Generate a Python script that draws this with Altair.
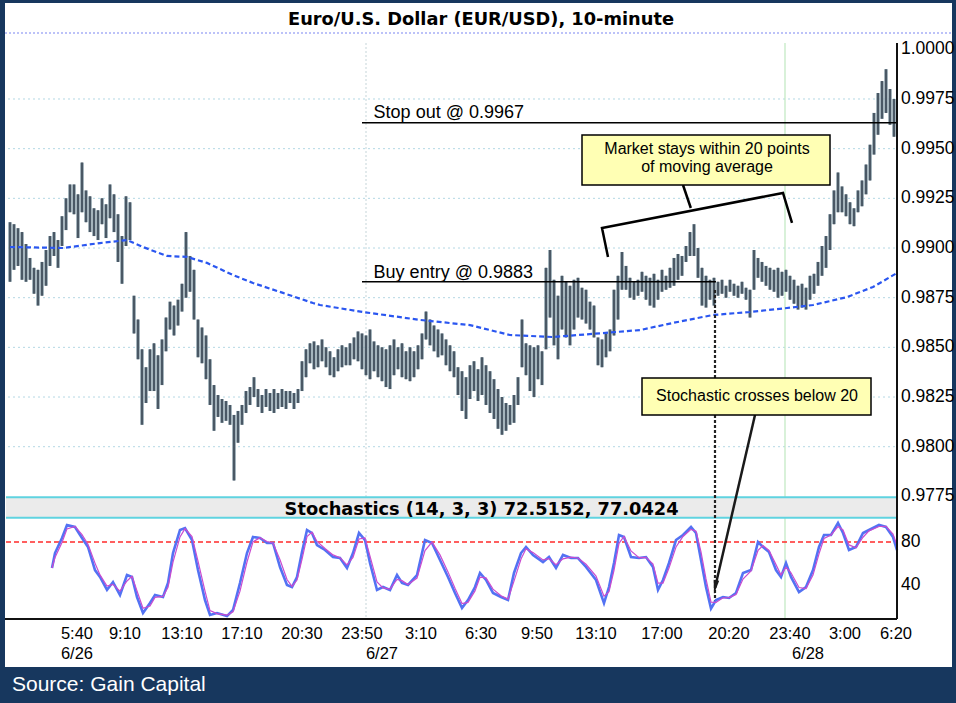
import altair as alt
import pandas as pd

TITLE = "Euro/U.S. Dollar (EUR/USD), 10-minute"
STOCH_TITLE = "Stochastics (14, 3, 3) 72.5152, 77.0424"
SOURCE = "Source: Gain Capital"
NOTE_MA = ["Market stays within 20 points", "of moving average"]
NOTE_STOCH = "Stochastic crosses below 20"
STOP_TEXT = "Stop out @ 0.9967"
BUY_TEXT = "Buy entry @ 0.9883"

# 10-minute bars (high / low)
bar_high = [
    0.9913, 0.9912, 0.9910, 0.9908, 0.9902, 0.9895, 0.9890, 0.9889, 0.9893, 0.9899,
    0.9906, 0.9908, 0.9904, 0.9916, 0.9925, 0.9932, 0.9932, 0.9927, 0.9943, 0.9929,
    0.9926, 0.9920, 0.9919, 0.9925, 0.9922, 0.9932, 0.9927, 0.9917, 0.9906, 0.9926,
    0.9923, 0.9876, 0.9864, 0.9849, 0.9840, 0.9849, 0.9852, 0.9846, 0.9854, 0.9865,
    0.9873, 0.9871, 0.9874, 0.9882, 0.9908, 0.9896, 0.9889, 0.9864, 0.9860, 0.9856,
    0.9844, 0.9831, 0.9826, 0.9824, 0.9823, 0.9821, 0.9816, 0.9818, 0.9821, 0.9828,
    0.9830, 0.9835, 0.9829, 0.9826, 0.9829, 0.9827, 0.9829, 0.9827, 0.9829, 0.9828,
    0.9828, 0.9827, 0.9829, 0.9843, 0.9849, 0.9852, 0.9853, 0.9851, 0.9854, 0.9850,
    0.9848, 0.9845, 0.9849, 0.9851, 0.9850, 0.9852, 0.9855, 0.9858, 0.9857, 0.9856,
    0.9859, 0.9853, 0.9851, 0.9850, 0.9849, 0.9851, 0.9854, 0.9850, 0.9852, 0.9848,
    0.9850, 0.9848, 0.9851, 0.9857, 0.9868, 0.9864, 0.9861, 0.9859, 0.9857, 0.9854,
    0.9851, 0.9848, 0.9840, 0.9838, 0.9835, 0.9841, 0.9843, 0.9839, 0.9845, 0.9841,
    0.9838, 0.9834, 0.9829, 0.9825, 0.9822, 0.9821, 0.9826, 0.9835, 0.9864, 0.9852,
    0.9851, 0.9850, 0.9851, 0.9848, 0.9890, 0.9899, 0.9884, 0.9876, 0.9886, 0.9883,
    0.9881, 0.9884, 0.9885, 0.9880, 0.9879, 0.9873, 0.9871, 0.9855, 0.9854, 0.9857,
    0.9859, 0.9879, 0.9886, 0.9898, 0.9891, 0.9885, 0.9883, 0.9884, 0.9888, 0.9886,
    0.9885, 0.9887, 0.9884, 0.9889, 0.9886, 0.9890, 0.9895, 0.9897, 0.9896, 0.9901,
    0.9908, 0.9912, 0.9900, 0.9890, 0.9886, 0.9884, 0.9885, 0.9883, 0.9884, 0.9881,
    0.9884, 0.9882, 0.9881, 0.9883, 0.9880, 0.9879, 0.9899, 0.9895, 0.9893, 0.9891,
    0.9890, 0.9889, 0.9890, 0.9888, 0.9889, 0.9886, 0.9884, 0.9881, 0.9882, 0.9880,
    0.9886, 0.9887, 0.9893, 0.9901, 0.9906, 0.9917, 0.9929, 0.9938, 0.9931, 0.9927,
    0.9923, 0.9920, 0.9929, 0.9934, 0.9942, 0.9952, 0.9968, 0.9978, 0.9984, 0.9990,
    0.9980, 0.9975,
]
bar_low = [
    0.9883, 0.9889, 0.9891, 0.9884, 0.9883, 0.9884, 0.9877, 0.9871, 0.9876, 0.9881,
    0.9891, 0.9896, 0.9890, 0.9901, 0.9909, 0.9918, 0.9917, 0.9905, 0.9918, 0.9913,
    0.9908, 0.9906, 0.9904, 0.9912, 0.9905, 0.9915, 0.9908, 0.9893, 0.9882, 0.9901,
    0.9904, 0.9857, 0.9844, 0.9811, 0.9822, 0.9828, 0.9828, 0.9819, 0.9831, 0.9848,
    0.9859, 0.9856, 0.9861, 0.9868, 0.9875, 0.9878, 0.9864, 0.9845, 0.9842, 0.9834,
    0.9821, 0.9808, 0.9815, 0.9812, 0.9813, 0.9811, 0.9783, 0.9802, 0.9811, 0.9817,
    0.9821, 0.9825, 0.9820, 0.9817, 0.9820, 0.9818, 0.9817, 0.9819, 0.9820, 0.9819,
    0.9822, 0.9819, 0.9822, 0.9828, 0.9835, 0.9842, 0.9839, 0.9840, 0.9843, 0.9840,
    0.9836, 0.9835, 0.9838, 0.9840, 0.9841, 0.9841, 0.9844, 0.9843, 0.9839, 0.9836,
    0.9834, 0.9838, 0.9835, 0.9833, 0.9830, 0.9829, 0.9836, 0.9839, 0.9835, 0.9834,
    0.9833, 0.9835, 0.9839, 0.9844, 0.9854, 0.9851, 0.9848, 0.9845, 0.9846, 0.9841,
    0.9838, 0.9835, 0.9826, 0.9818, 0.9814, 0.9824, 0.9828, 0.9823, 0.9826, 0.9821,
    0.9817, 0.9814, 0.9809, 0.9806, 0.9808, 0.9811, 0.9812, 0.9821, 0.9840, 0.9836,
    0.9828, 0.9825, 0.9834, 0.9831, 0.9849, 0.9865, 0.9851, 0.9844, 0.9859, 0.9855,
    0.9851, 0.9859, 0.9865, 0.9864, 0.9862, 0.9859, 0.9855, 0.9841, 0.9840, 0.9845,
    0.9848, 0.9856, 0.9864, 0.9879, 0.9879, 0.9875, 0.9874, 0.9876, 0.9878, 0.9874,
    0.9871, 0.9870, 0.9874, 0.9878, 0.9879, 0.9880, 0.9881, 0.9884, 0.9886, 0.9893,
    0.9896, 0.9896, 0.9885, 0.9871, 0.9870, 0.9874, 0.9871, 0.9876, 0.9877, 0.9875,
    0.9878, 0.9876, 0.9875, 0.9877, 0.9874, 0.9865, 0.9879, 0.9885, 0.9883, 0.9881,
    0.9879, 0.9878, 0.9875, 0.9876, 0.9878, 0.9874, 0.9872, 0.9869, 0.9870, 0.9869,
    0.9874, 0.9877, 0.9881, 0.9886, 0.9890, 0.9899, 0.9912, 0.9918, 0.9918, 0.9916,
    0.9912, 0.9911, 0.9918, 0.9921, 0.9927, 0.9934, 0.9947, 0.9957, 0.9965, 0.9968,
    0.9962, 0.9956,
]

# moving average (bar position, value)
ma_pos = [0, 13.25, 22.5, 29.25, 33.25, 39.25, 44.25, 49.25, 55.75, 60.75, 68.25,
          75.75, 77.5, 88.25, 102.5, 115, 125, 135.75, 148.25, 157.5, 165.75,
          175.75, 185, 194.25, 200.75, 209.25, 215.75, 221.75]
ma_val = [0.99005, 0.9900, 0.99025, 0.9904, 0.99005, 0.9896, 0.98955, 0.98925,
          0.98864, 0.98824, 0.98774, 0.98723, 0.98713, 0.98678, 0.98638, 0.98612,
          0.98562, 0.98552, 0.98572, 0.98587, 0.98623, 0.98663, 0.98678, 0.98698,
          0.98713, 0.98753, 0.98804, 0.98874]

# stochastics %K / %D (bar position, value)
stoch_pos = [10.5, 11.25, 13, 14.25, 16.25, 18, 19.5, 21.25, 22.5, 24.25,
             25.75, 27.5, 29.25, 30.5, 31.75, 33.25, 35, 36.25, 38.25, 39.5,
             40.75, 42.5, 43.75, 45.5, 47, 48.75, 50, 51.75, 54.25, 55.75,
             57.5, 59.25, 60.75, 62.5, 64.25, 65.75, 67.5, 69.25, 70.5, 71.75,
             73, 74.25, 75.5, 76.75, 78.75, 80.75, 82.5, 84.25, 85.75, 87.25,
             88.75, 90, 91.75, 93.25, 95, 96.75, 98, 99.5, 101.75, 103.75,
             105.5, 107.5, 109.5, 111.25, 113, 114.5, 116.25, 117.5, 119, 120.75,
             122.75, 124.5, 126, 127.75, 129, 130.75, 133.25, 134.75, 136.5, 138.25,
             140.25, 142, 144, 146.5, 148.5, 149.75, 151, 152.25, 153.5, 155.25,
             157.25, 159, 160.75, 162, 163.25, 164.75, 166.5, 168.25, 170.25, 171.5,
             172.75, 174, 175.25, 176.5, 178.25, 179.75, 181.5, 183.25, 185.25, 187,
             188.25, 189.75, 191.5, 192.75, 194, 195.25, 197.25, 199, 200.75, 202.25,
             203.5, 205.25, 207, 208.25, 209.75, 211.5, 213.25, 214.75, 217.25, 219,
             220.75, 221.75]
stoch_k = [56, 69.8, 83.7, 95.7, 93.9, 83.7, 75.4, 54.1, 47.7, 35.7,
           43, 31, 49.5, 47.7, 29.2, 14.4, 23.7, 31, 29.2, 42.1,
           69.8, 91.1, 92.9, 81.8, 54.1, 26.4, 12.6, 14.4, 11.6, 17.2,
           42.1, 69.8, 84.6, 83.7, 79.1, 79.1, 56.9, 40.3, 38.4, 47.7,
           70.8, 91.1, 88.3, 77.2, 72.6, 66.1, 65.2, 56, 69.8, 88.3,
           81.8, 60.6, 35.7, 38.4, 35.7, 49.5, 42.1, 40.3, 49.5, 81.8,
           79.1, 63.4, 47.7, 32.9, 19, 26.4, 38.4, 51.4, 44.9, 32.9,
           29.2, 26.4, 51.4, 69.8, 75.4, 68, 61.5, 66.1, 56, 68,
           65.2, 65.2, 56.9, 44.9, 23.6, 38.4, 60.6, 86.5, 84.6, 66.1,
           65.2, 66.1, 56.9, 35.7, 44.9, 60.6, 81.8, 86.5, 93.9, 88.3,
           63.4, 38.4, 18.5, 26.4, 29.2, 28.3, 32.9, 51.4, 54.1, 80,
           75.4, 70.8, 54.1, 47.7, 60.6, 47.7, 33.8, 38.4, 54.1, 75.4,
           86.5, 86.5, 97.6, 88.3, 72.6, 75.4, 88.3, 91.1, 95.7, 93.9,
           84.6, 72.5]
stoch_d = [56, 65.7, 79.5, 92.1, 94.4, 86.8, 77.9, 60.5, 49.6, 39.3,
           40.8, 34.6, 44, 48.2, 34.8, 18.8, 20.9, 28.8, 29.7, 38.2,
           61.5, 84.7, 92.4, 85.1, 62.4, 34.7, 16.7, 13.9, 12.4, 15.5,
           34.6, 61.5, 80.2, 84, 80.5, 79.1, 63.6, 45.3, 39, 44.9,
           63.9, 85, 89.1, 80.5, 74, 68.1, 65.5, 58.8, 65.7, 82.8,
           83.8, 67, 43.2, 37.6, 36.5, 45.4, 44.3, 40.8, 46.7, 72.1,
           79.9, 68.1, 52.4, 37.3, 23.2, 24.2, 34.8, 47.5, 46.9, 36.5,
           30.3, 27.2, 43.9, 64.3, 73.7, 70.2, 63.5, 64.7, 59, 64.4,
           66, 65.2, 59.4, 48.5, 30, 34, 53.9, 78.8, 85.2, 71.7,
           65.5, 65.8, 59.7, 42.1, 42.1, 55.9, 75.4, 85.1, 91.7, 90,
           70.9, 45.9, 24.4, 24.2, 28.4, 28.6, 31.5, 45.8, 53.3, 72.2,
           76.8, 72.2, 59.1, 49.6, 56.7, 51.6, 38, 37, 49.4, 69,
           83.2, 86.5, 94.3, 91.1, 77.3, 74.6, 84.4, 90.3, 94.3, 94.4,
           87.4, 77.0]

price_ticks = [1.0000, 0.9975, 0.9950, 0.9925, 0.9900, 0.9875, 0.9850, 0.9825, 0.9800, 0.9775]
grid_prices = [0.9975, 0.9950, 0.9925, 0.9900, 0.9875, 0.9850, 0.9825, 0.9800]
stoch_ticks = [80, 40]
time_pos = [16.75, 28.75, 43, 58, 73, 88, 102.75, 117.75, 131.75, 146.5, 163, 179.75, 195, 208.75, 221.5]
time_lab = ["5:40", "9:10", "13:10", "17:10", "20:30", "23:50", "3:10", "6:30",
            "9:50", "13:10", "17:00", "20:20", "23:40", "3:00", "6:20"]
date_pos = [16.75, 93, 199.5]
date_lab = ["6/26", "6/27", "6/28"]
day_breaks = [89, 193.75]
stop_level = 0.9963
buy_level = 0.9883
stoch_trigger = 80

# ---------------- scales ----------------
XS = alt.Scale(domain=[-1.25, 235.5], nice=False, zero=False)
PS = alt.Scale(domain=[0.968912, 1.002331], nice=False, zero=False)
SS = alt.Scale(domain=[-35.47, 577.92], nice=False, zero=False)

NAVY = "#17375e"
SANS = "Liberation Sans"
BOLD = "DejaVu Sans"


def X(f):
    return alt.X(f, type="quantitative", scale=XS, axis=None)


def PY(f):
    return alt.Y(f, type="quantitative", scale=PS, axis=None)


def SY(f):
    return alt.Y(f, type="quantitative", scale=SS, axis=None)


def df(**cols):
    return pd.DataFrame(cols)


layers = []

# price panel horizontal grid
layers.append(alt.Chart(df(v=grid_prices, x0=-0.5, x1=221.75)).mark_rule(
    color="#b4d8e4", strokeWidth=1, strokeDash=[2, 3]).encode(
    x=X("x0"), x2="x1:Q", y=PY("v")))
# top dotted line under the title
layers.append(alt.Chart(df(v=[1.000821], x0=-1.25, x1=235.5)).mark_rule(
    color="#7b86f2", strokeWidth=1.2, strokeDash=[2, 2]).encode(
    x=X("x0"), x2="x1:Q", y=PY("v")))
# day separators
layers.append(alt.Chart(df(p=[day_breaks[0]], a=1.000318, b=0.971328)).mark_rule(
    color="#c5d4d8", strokeWidth=1, strokeDash=[2, 2]).encode(
    x=X("p"), y=PY("a"), y2="b:Q"))
layers.append(alt.Chart(df(p=[day_breaks[1]], a=1.000318, b=0.971328)).mark_rule(
    color="#bfe8c0", strokeWidth=1.2).encode(
    x=X("p"), y=PY("a"), y2="b:Q"))

# stochastic header band
layers.append(alt.Chart(df(x0=[-1.0], x1=221.75, a=102.45, b=121.3)).mark_rect(
    color="#ebebeb").encode(x=X("x0"), x2="x1:Q", y=SY("a"), y2="b:Q"))
layers.append(alt.Chart(df(v=[102.45, 121.3], x0=-1.0, x1=221.75)).mark_rule(
    color="#5fd3e0", strokeWidth=2).encode(x=X("x0"), x2="x1:Q", y=SY("v")))
# 80 trigger line
layers.append(alt.Chart(df(v=[stoch_trigger], x0=-1.0, x1=221.75)).mark_rule(
    color="#ff2b2b", strokeWidth=1.5, strokeDash=[5, 3]).encode(
    x=X("x0"), x2="x1:Q", y=SY("v")))

# price bars: light halo plus dark core
bars = df(i=list(range(len(bar_high))), hi=bar_high, lo=bar_low)
layers.append(alt.Chart(bars).mark_rule(color="#8fa2ac", strokeWidth=3.6).encode(
    x=X("i"), y=PY("lo"), y2="hi:Q"))
layers.append(alt.Chart(bars).mark_rule(color="#333f4e", strokeWidth=1.5).encode(
    x=X("i"), y=PY("lo"), y2="hi:Q"))

# moving average
layers.append(alt.Chart(df(p=ma_pos, v=ma_val)).mark_line(
    color="#2a56f0", strokeWidth=2.2, strokeDash=[5, 3]).encode(x=X("p"), y=PY("v")))

# stop / buy lines
layers.append(alt.Chart(df(v=[stop_level], x0=88, x1=221.75)).mark_rule(
    color="black", strokeWidth=1.5).encode(x=X("x0"), x2="x1:Q", y=PY("v")))
layers.append(alt.Chart(df(v=[buy_level], x0=88, x1=176.5)).mark_rule(
    color="black", strokeWidth=1.5).encode(x=X("x0"), x2="x1:Q", y=PY("v")))
layers.append(alt.Chart(df(p=[90.9], v=stop_level, t=STOP_TEXT)).mark_text(
    align="left", baseline="alphabetic", dy=-5, font=SANS, fontSize=18, color="black").encode(
    x=X("p"), y=PY("v"), text="t:N"))
layers.append(alt.Chart(df(p=[90.9], v=buy_level, t=BUY_TEXT)).mark_text(
    align="left", baseline="alphabetic", dy=-4, font=SANS, fontSize=18, color="black").encode(
    x=X("p"), y=PY("v"), text="t:N"))

# bracket for "market stays within..."
bracket = df(seg=["b", "b", "b", "b", "c", "c"], o=[0, 1, 2, 3, 0, 1],
             p=[149.5, 148, 193.25, 195.5, 168.25, 170.2],
             v=[0.98955, 0.99101, 0.99277, 0.99126, 0.993171, 0.992014])
layers.append(alt.Chart(bracket).mark_line(color="black", strokeWidth=2.5).encode(
    x=X("p"), y=PY("v"), detail="seg:N", order="o:Q"))
layers.append(alt.Chart(df(x0=[143], x1=205, a=0.993171, b=0.995688)).mark_rect(
    fill="#ffffb4", stroke="black", strokeWidth=1.5).encode(
    x=X("x0"), x2="x1:Q", y=PY("a"), y2="b:Q"))
layers.append(alt.Chart(df(p=[174.25, 174.25], v=[0.995008, 0.994052], t=NOTE_MA)).mark_text(
    align="center", baseline="middle", font=SANS, fontSize=16, color="black").encode(
    x=X("p"), y=PY("v"), text="t:N"))

# dotted drop line at the signal bar
layers.append(alt.Chart(df(p=[176.25], a=0.987887, b=0.972133)).mark_rule(
    color="#222222", strokeWidth=2.2, strokeDash=[3, 2]).encode(
    x=X("p"), y=PY("a"), y2="b:Q"))
# arrow
layers.append(alt.Chart(df(p=[186.25, 176.25], v=[0.981595, 0.97290])).mark_line(
    color="#1a1a1a", strokeWidth=2.5).encode(x=X("p"), y=PY("v")))
layers.append(alt.Chart(df(p=[176.3], v=0.972934)).mark_point(
    shape="M-0.4,-1L0.4,-1L0,1Z", filled=True, size=196, angle=10,
    color="#1a1a1a", opacity=1).encode(x=X("p"), y=PY("v")))
# stochastic note box
layers.append(alt.Chart(df(x0=[158], x1=215.25, a=0.981595, b=0.983458)).mark_rect(
    fill="#ffffb4", stroke="black", strokeWidth=1.5).encode(
    x=X("x0"), x2="x1:Q", y=PY("a"), y2="b:Q"))
layers.append(alt.Chart(df(p=[186.75], v=0.982527, t=NOTE_STOCH)).mark_text(
    align="center", baseline="middle", font=SANS, fontSize=16, color="black").encode(
    x=X("p"), y=PY("v"), text="t:N"))

# stochastic lines
stoch = df(p=stoch_pos, k=stoch_k, d=stoch_d)
layers.append(alt.Chart(stoch).mark_line(color="#5372f3", strokeWidth=2.6).encode(
    x=X("p"), y=SY("k")))
layers.append(alt.Chart(stoch).mark_line(color="#c94bcf", strokeWidth=1.2).encode(
    x=X("p"), y=SY("d")))

# panel frame lines
layers.append(alt.Chart(df(v=[8.87], x0=-1.25, x1=221.75)).mark_rule(
    color="#111111", strokeWidth=2).encode(x=X("x0"), x2="x1:Q", y=SY("v")))
layers.append(alt.Chart(df(p=[221.75], a=1.000318, b=0.971328)).mark_rule(
    color="#111111", strokeWidth=2).encode(x=X("p"), y=PY("a"), y2="b:Q"))

# axis labels
layers.append(alt.Chart(df(v=price_ticks, t=[f"{p:.4f}" for p in price_ticks])).mark_text(
    align="left", baseline="middle", font=SANS, fontSize=17.5, color="black").encode(
    x=alt.value(896), y=PY("v"), text="t:N"))
layers.append(alt.Chart(df(v=stoch_ticks, t=[str(s) for s in stoch_ticks])).mark_text(
    align="left", baseline="middle", font=SANS, fontSize=17.5, color="black").encode(
    x=alt.value(896), y=SY("v"), text="t:N"))
layers.append(alt.Chart(df(p=time_pos, t=time_lab)).mark_text(
    align="center", baseline="middle", font=SANS, fontSize=16.5, color="black").encode(
    x=X("p"), y=alt.value(630.5), text="t:N"))
layers.append(alt.Chart(df(p=date_pos, t=date_lab)).mark_text(
    align="center", baseline="middle", font=SANS, fontSize=16.5, color="black").encode(
    x=X("p"), y=alt.value(650.5), text="t:N"))

# titles and source
layers.append(alt.Chart(df(t=[TITLE])).mark_text(
    align="center", baseline="middle", font=BOLD, fontWeight="bold", fontSize=17.8,
    color="black").encode(x=alt.value(476), y=alt.value(17), text="t:N"))
layers.append(alt.Chart(df(p=[117.9], v=110.0, t=STOCH_TITLE)).mark_text(
    align="center", baseline="middle", font=BOLD, fontWeight="bold", fontSize=17.8,
    color="black").encode(x=X("p"), y=SY("v"), text="t:N"))
layers.append(alt.Chart(df(t=[SOURCE])).mark_text(
    align="left", baseline="middle", font=SANS, fontSize=21, color="white").encode(
    x=alt.value(7), y=alt.value(682), text="t:N"))

chart = alt.layer(*layers).resolve_scale(y="independent").properties(
    width=947, height=664,
    padding={"left": 5, "top": 3, "right": 4, "bottom": 36},
    autosize=alt.AutoSizeParams(type="none"),
    background=NAVY,
).configure_view(fill="white", strokeWidth=0)

chart.save("out.html", embed_options={"renderer": "svg", "actions": False})
